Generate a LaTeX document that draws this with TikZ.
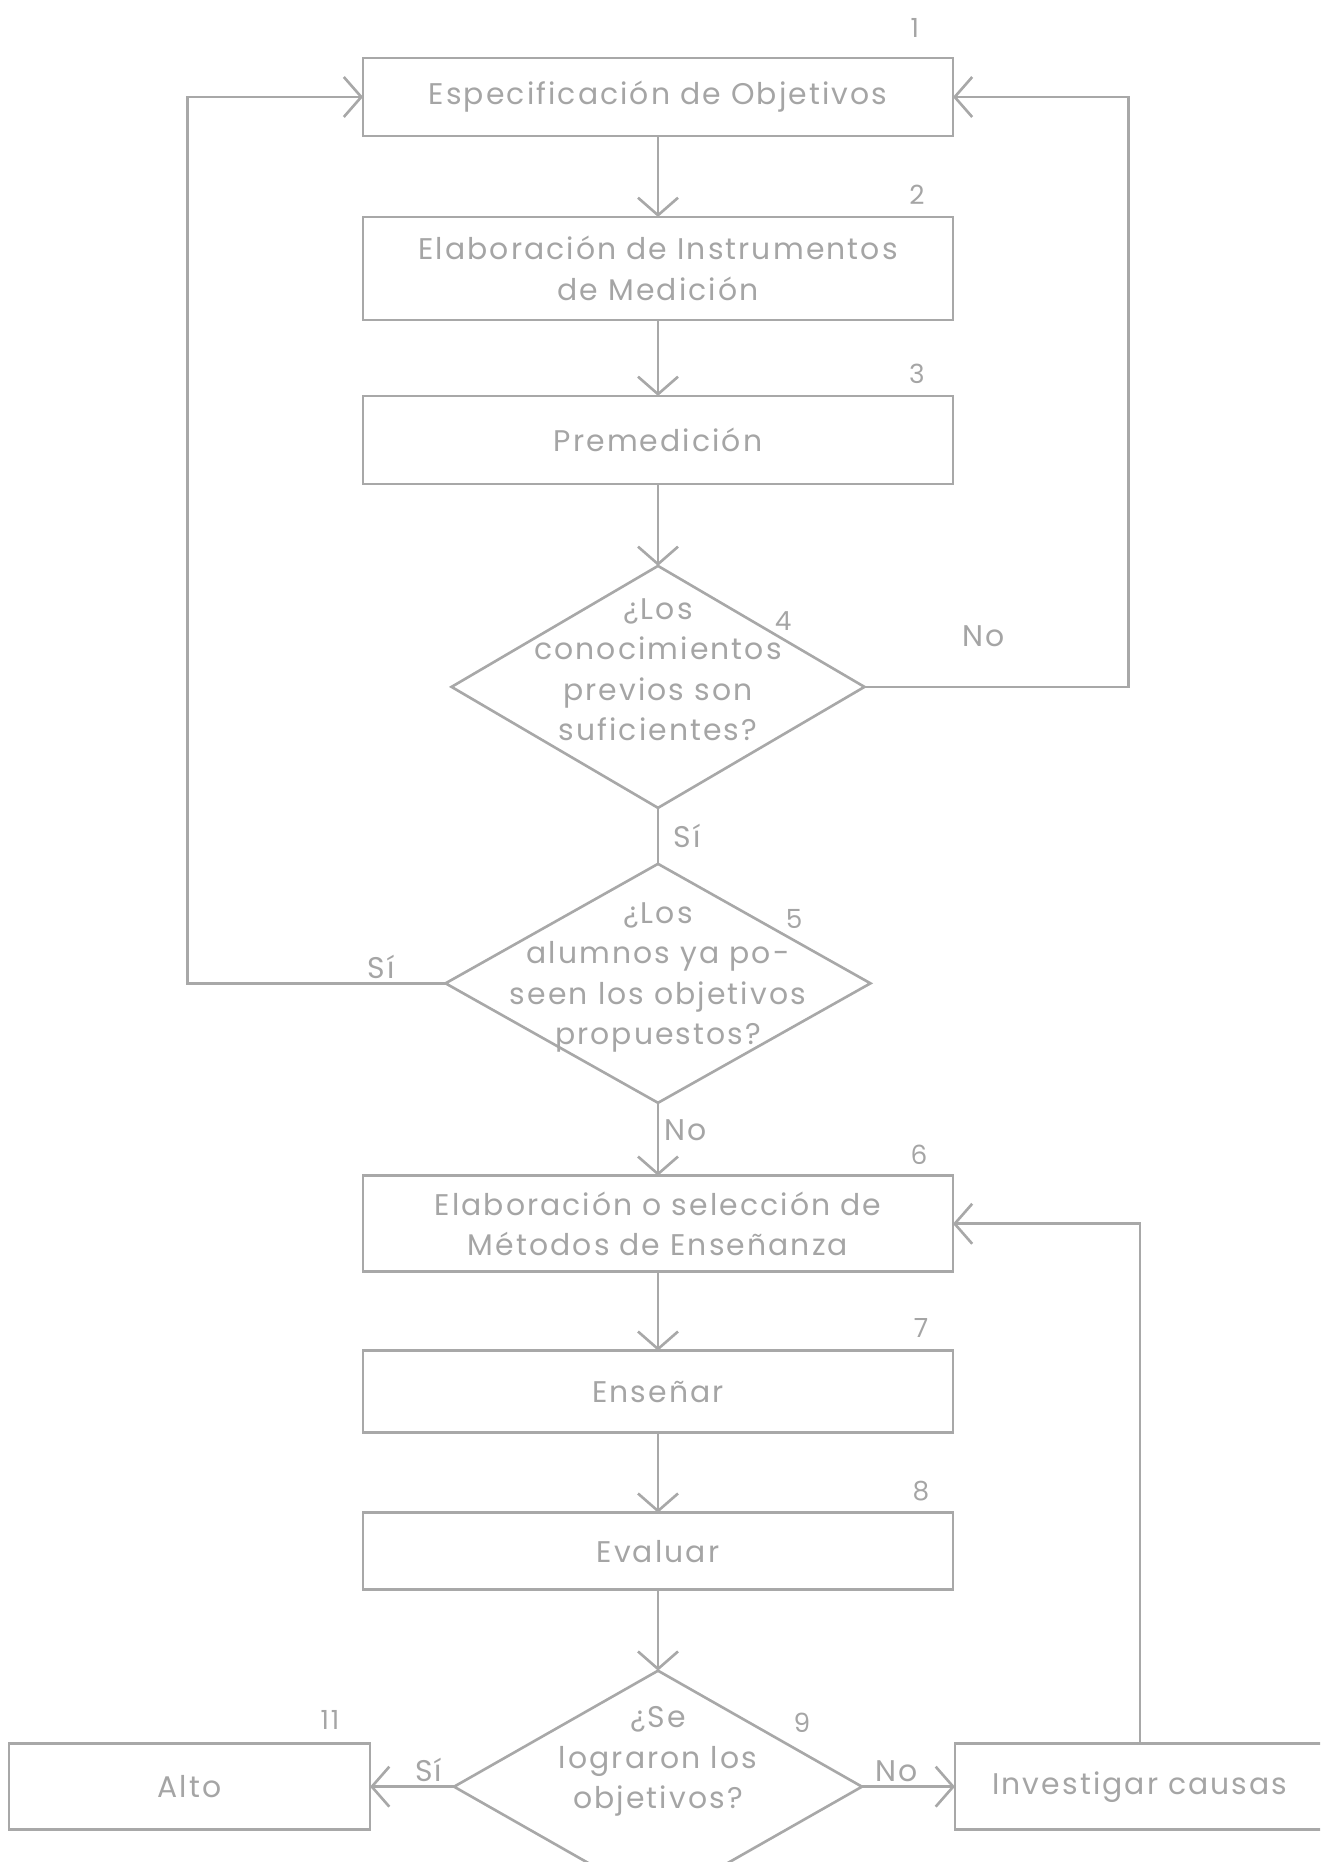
\documentclass[tikz,border=0pt]{standalone}
\usepackage{fontspec}
\setmainfont{Poppins}[LetterSpace=7]
\usetikzlibrary{calc,arrows.meta,positioning,shapes.geometric}
\definecolor{lineColor}{RGB}{168,168,168}
\definecolor{textColor}{RGB}{165,165,165}
\newcommand{\flowfont}{\fontsize{17}{23}\selectfont}
\newcommand{\numfont}{\fontsize{15}{17}\selectfont}

\begin{document}
\begin{tikzpicture}[x=0.02cm, y=-0.02cm,
    proc/.style={draw=lineColor, line width=1.5pt, outer sep=0pt, minimum width=11.8cm, minimum height=1.7cm, align=center, text=textColor, font=\flowfont},
    query/.style={draw=lineColor, line width=1.5pt, outer sep=0pt, diamond, inner sep=0pt, minimum width=8.3cm, minimum height=4.8cm},
    qtext/.style={align=center, text=textColor, font=\flowfont},
    num/.style={text=textColor, font=\numfont, inner sep=0pt},
    lbl/.style={text=textColor, font=\flowfont, inner sep=1pt},
    arr/.style={-{Straight Barb[length=3.5mm, width=8mm]}, line width=1.5pt, lineColor},
    lin/.style={line width=1.5pt, lineColor}
  ]
  \useasboundingbox (0,0) rectangle (1320,1862);
  \clip (0,0) rectangle (1320,1862);

  % main column
  \node[proc, minimum height=1.56cm] (b1) at (658,97) {Especificación de Objetivos};
  \node[proc, minimum height=2.06cm, below=1.62cm of b1] (b2) {Elaboración de Instrumentos\\de Medición};
  \node[proc, minimum height=1.76cm, below=1.52cm of b2] (b3) {Premedición};
  \node[query, minimum width=8.26cm, minimum height=4.84cm, below=1.64cm of b3] (q4) {};
  \node[query, minimum width=8.5cm, minimum height=4.78cm, below=1.12cm of q4] (q5) {};
  \node[proc, minimum height=1.92cm, below=1.46cm of q5] (b6) {Elaboración o selección de\\Métodos de Enseñanza};
  \node[proc, minimum height=1.64cm, below=1.58cm of b6] (b7) {Enseñar};
  \node[proc, minimum height=1.54cm, below=1.6cm of b7] (b8) {Evaluar};
  \node[query, minimum width=8.16cm, minimum height=4.64cm, below=1.62cm of b8] (q9) {};
  \node[proc, minimum width=7.22cm, minimum height=1.72cm, left=1.68cm of q9] (b11) {Alto};
  \node[proc, minimum width=7.4cm, minimum height=1.72cm, right=1.86cm of q9] (b10) {Investigar causas};

  % diamond texts
  \node[qtext, yshift=0.34cm] (t4) at (q4) {¿Los\\conocimientos\\previos son\\suficientes?};
  \node[qtext, yshift=0.12cm] (t5) at (q5) {¿Los\\alumnos ya po-\\seen los objetivos\\propuestos?};
  \node[qtext, yshift=0.5cm] (t9) at (q9) {¿Se\\lograron los\\objetivos?};

  % step numbers
  \node[num] (n1) at ($(b1.north east)+(-38,-30)$) {1};
  \node[num] (n2) at ($(b2.north east)+(-36,-22)$) {2};
  \node[num] (n3) at ($(b3.north east)+(-36,-22)$) {3};
  \node[num] (n4) at ($(q4.north east)+(22,-5)$) {4};
  \node[num] (n5) at ($(q5.north east)+(30,-5)$) {5};
  \node[num] (n6) at ($(b6.north east)+(-34,-21)$) {6};
  \node[num] (n7) at ($(b7.north east)+(-32,-23)$) {7};
  \node[num] (n8) at ($(b8.north east)+(-32,-22)$) {8};
  \node[num] (n9) at ($(q9.north east)+(42,-6)$) {9};
  \node[num] (n11) at ($(b11.north east)+(-40,-24)$) {11};

  % connectors
  \draw[arr] (b1) -- (b2);
  \draw[arr] (b2) -- (b3);
  \draw[arr] (b3) -- (q4);
  \draw[lin] (q4.south) -- node[lbl, right=0.25cm] {Sí} (q5.north);
  \draw[arr] (q4.east) -- node[lbl, above=0.75cm, pos=0.45] {No} ++(264,0) |- (b1.east);
  \draw[arr] (q5.west) -- node[lbl, above=1pt, pos=0.25] {Sí} ++(-258,0) |- (b1.west);
  \draw[arr] (q5.south) -- node[lbl, right=2pt, pos=0.37] {No} (b6.north);
  \draw[arr] (b6) -- (b7);
  \draw[arr] (b7) -- (b8);
  \draw[arr] (b8) -- (q9);
  \draw[arr] (q9.west) -- node[lbl, above=1pt, pos=0.3] {Sí} (b11.east);
  \draw[arr] (q9.east) -- node[lbl, above=1pt, pos=0.37] {No} (b10.west);
  \draw[arr] (b10.north) |- (b6.east);
\end{tikzpicture}
\end{document}
